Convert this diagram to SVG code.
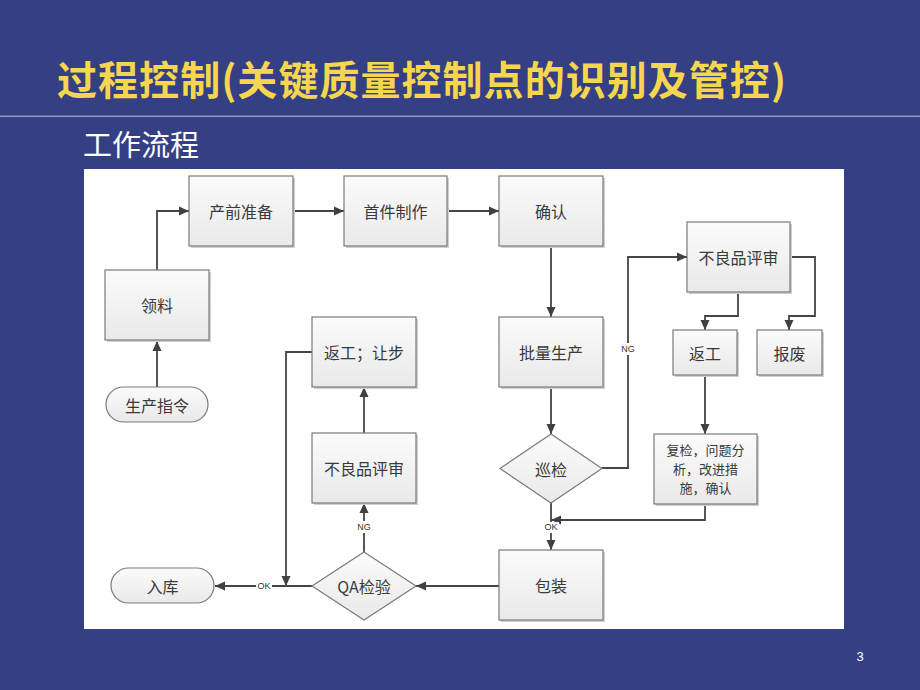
<svg xmlns="http://www.w3.org/2000/svg" width="920" height="690" viewBox="0 0 920 690">
<defs>
<linearGradient id="boxg" x1="0" y1="0" x2="0" y2="1">
<stop offset="0" stop-color="#fbfbfb"/>
<stop offset="1" stop-color="#e9e9e9"/>
</linearGradient>
<marker id="arr" markerUnits="userSpaceOnUse" markerWidth="10" markerHeight="10" viewBox="0 0 10 10" refX="10" refY="5" orient="auto">
<path d="M0,0.5 L10,5 L0,9.5 z" fill="#404040"/>
</marker>
<style>
.box{fill:url(#boxg);stroke:#7a7a7a;stroke-width:1.2}
.shadow{fill:#cfcfcf}
.t{font-family:"Noto Sans CJK SC","Noto Sans",sans-serif;font-size:16px;fill:#3a3a3a;text-anchor:middle;dominant-baseline:central}
.small{font-family:"Noto Sans CJK SC","Noto Sans",sans-serif;font-size:13px;fill:#3a3a3a;text-anchor:middle;dominant-baseline:central}
.lab{font-family:"Liberation Sans","DejaVu Sans",sans-serif;font-size:9px;fill:#333;text-anchor:middle;dominant-baseline:central}
.c{fill:none;stroke:#454545;stroke-width:1.8}
</style>
</defs>
<rect x="0" y="0" width="920" height="690" fill="#353f84"/>
<text x="57" y="95" font-family="'Noto Sans CJK SC',sans-serif" font-size="40" font-weight="bold" fill="#f5d64e" textLength="729" lengthAdjust="spacing">过程控制(关键质量控制点的识别及管控)</text>
<rect x="0" y="115.5" width="920" height="1.6" fill="#8e92b4"/>
<text x="83" y="156" font-family="'Noto Sans CJK SC',sans-serif" font-size="29" fill="#ffffff">工作流程</text>
<text x="860" y="661" font-family="'Liberation Sans',sans-serif" font-size="13" fill="#ffffff" text-anchor="middle">3</text>
<rect x="84" y="169" width="760" height="460" fill="#ffffff"/>

<g id="connectors">
<path class="c" d="M157,387 L157,341" marker-end="url(#arr)"/>
<path class="c" d="M157,270 L157,211 L189,211" marker-end="url(#arr)"/>
<path class="c" d="M293,211 L344,211" marker-end="url(#arr)"/>
<path class="c" d="M447,211 L499,211" marker-end="url(#arr)"/>
<path class="c" d="M551,246 L551,317" marker-end="url(#arr)"/>
<path class="c" d="M551,387 L551,434" marker-end="url(#arr)"/>
<path class="c" d="M602,468 L628,468 L628,257 L687,257" marker-end="url(#arr)"/>
<path class="c" d="M738,292 L738,316 L705,316 L705,330" marker-end="url(#arr)"/>
<path class="c" d="M790,257 L815,257 L815,316 L789,316 L789,330" marker-end="url(#arr)"/>
<path class="c" d="M705,375 L705,434" marker-end="url(#arr)"/>
<path class="c" d="M705,504 L705,520 L551,520" marker-end="url(#arr)"/>
<path class="c" d="M551,503 L551,550" marker-end="url(#arr)"/>
<path class="c" d="M499,586 L416,586" marker-end="url(#arr)"/>
<path class="c" d="M364,552 L364,503" marker-end="url(#arr)"/>
<path class="c" d="M364,433 L364,387" marker-end="url(#arr)"/>
<path class="c" d="M312,586 L215,586" marker-end="url(#arr)"/>
<path class="c" d="M312,352 L286,352 L286,586" marker-end="url(#arr)"/>
<rect x="619" y="343" width="18" height="12" fill="#ffffff"/>
<text class="lab" x="628" y="349">NG</text>
<rect x="543" y="522" width="16" height="11" fill="#ffffff"/>
<text class="lab" x="551" y="527">OK</text>
<rect x="355" y="521" width="18" height="12" fill="#ffffff"/>
<text class="lab" x="364" y="527">NG</text>
<rect x="256" y="580" width="16" height="12" fill="#ffffff"/>
<text class="lab" x="264" y="586">OK</text>
</g>

<g id="n-shengchanzhiling">
<rect x="106" y="387" width="102" height="35" rx="17.5" class="box"/>
<text class="t" x="157" y="404.5">生产指令</text>
</g>
<g id="n-lingliao">
<rect x="107" y="272" width="104" height="70" class="shadow"/>
<rect x="105" y="270" width="104" height="70" class="box"/>
<text class="t" x="157" y="305">领料</text>
</g>
<g id="n-chanqianzhunbei">
<rect x="191" y="178" width="104" height="70" class="shadow"/>
<rect x="189" y="176" width="104" height="70" class="box"/>
<text class="t" x="241" y="211">产前准备</text>
</g>
<g id="n-shoujianzhizuo">
<rect x="346" y="178" width="103" height="70" class="shadow"/>
<rect x="344" y="176" width="103" height="70" class="box"/>
<text class="t" x="395.5" y="211">首件制作</text>
</g>
<g id="n-queren">
<rect x="501" y="178" width="104" height="70" class="shadow"/>
<rect x="499" y="176" width="104" height="70" class="box"/>
<text class="t" x="551" y="211">确认</text>
</g>
<g id="n-piliangshengchan">
<rect x="501" y="319" width="104" height="70" class="shadow"/>
<rect x="499" y="317" width="104" height="70" class="box"/>
<text class="t" x="551" y="352">批量生产</text>
</g>
<g id="n-xunjian">
<polygon points="551,434 602,468.5 551,503 500,468.5" class="box"/>
<text class="t" x="551" y="468.5">巡检</text>
</g>
<g id="n-buliangpin1">
<rect x="689" y="224" width="103" height="70" class="shadow"/>
<rect x="687" y="222" width="103" height="70" class="box"/>
<text class="t" x="738.5" y="257">不良品评审</text>
</g>
<g id="n-fangong">
<rect x="675" y="332" width="64" height="45" class="shadow"/>
<rect x="673" y="330" width="64" height="45" class="box"/>
<text class="t" x="705" y="352.5">返工</text>
</g>
<g id="n-baofei">
<rect x="759" y="332" width="65" height="45" class="shadow"/>
<rect x="757" y="330" width="65" height="45" class="box"/>
<text class="t" x="789.5" y="352.5">报废</text>
</g>
<g id="n-fujian">
<rect x="656" y="436" width="103" height="70" class="shadow"/>
<rect x="654" y="434" width="103" height="70" class="box"/>
<text class="small" x="705.5" y="449.5">复检，问题分</text>
<text class="small" x="705.5" y="468.5">析，改进措</text>
<text class="small" x="705.5" y="487.5">施，确认</text>
</g>
<g id="n-baozhuang">
<rect x="501" y="552" width="104" height="70" class="shadow"/>
<rect x="499" y="550" width="104" height="70" class="box"/>
<text class="t" x="551" y="585">包装</text>
</g>
<g id="n-qajianyan">
<polygon points="364,552 416,586 364,620 312,586" class="box"/>
<text class="t" x="364" y="586">QA检验</text>
</g>
<g id="n-buliangpin2">
<rect x="314" y="435" width="104" height="70" class="shadow"/>
<rect x="312" y="433" width="104" height="70" class="box"/>
<text class="t" x="364" y="468">不良品评审</text>
</g>
<g id="n-fangongrangbu">
<rect x="314" y="319" width="104" height="70" class="shadow"/>
<rect x="312" y="317" width="104" height="70" class="box"/>
<text class="t" x="364" y="352">返工；让步</text>
</g>
<g id="n-ruku">
<rect x="111" y="568" width="103" height="35" rx="17.5" class="box"/>
<text class="t" x="162.5" y="585.5">入库</text>
</g>
</svg>
